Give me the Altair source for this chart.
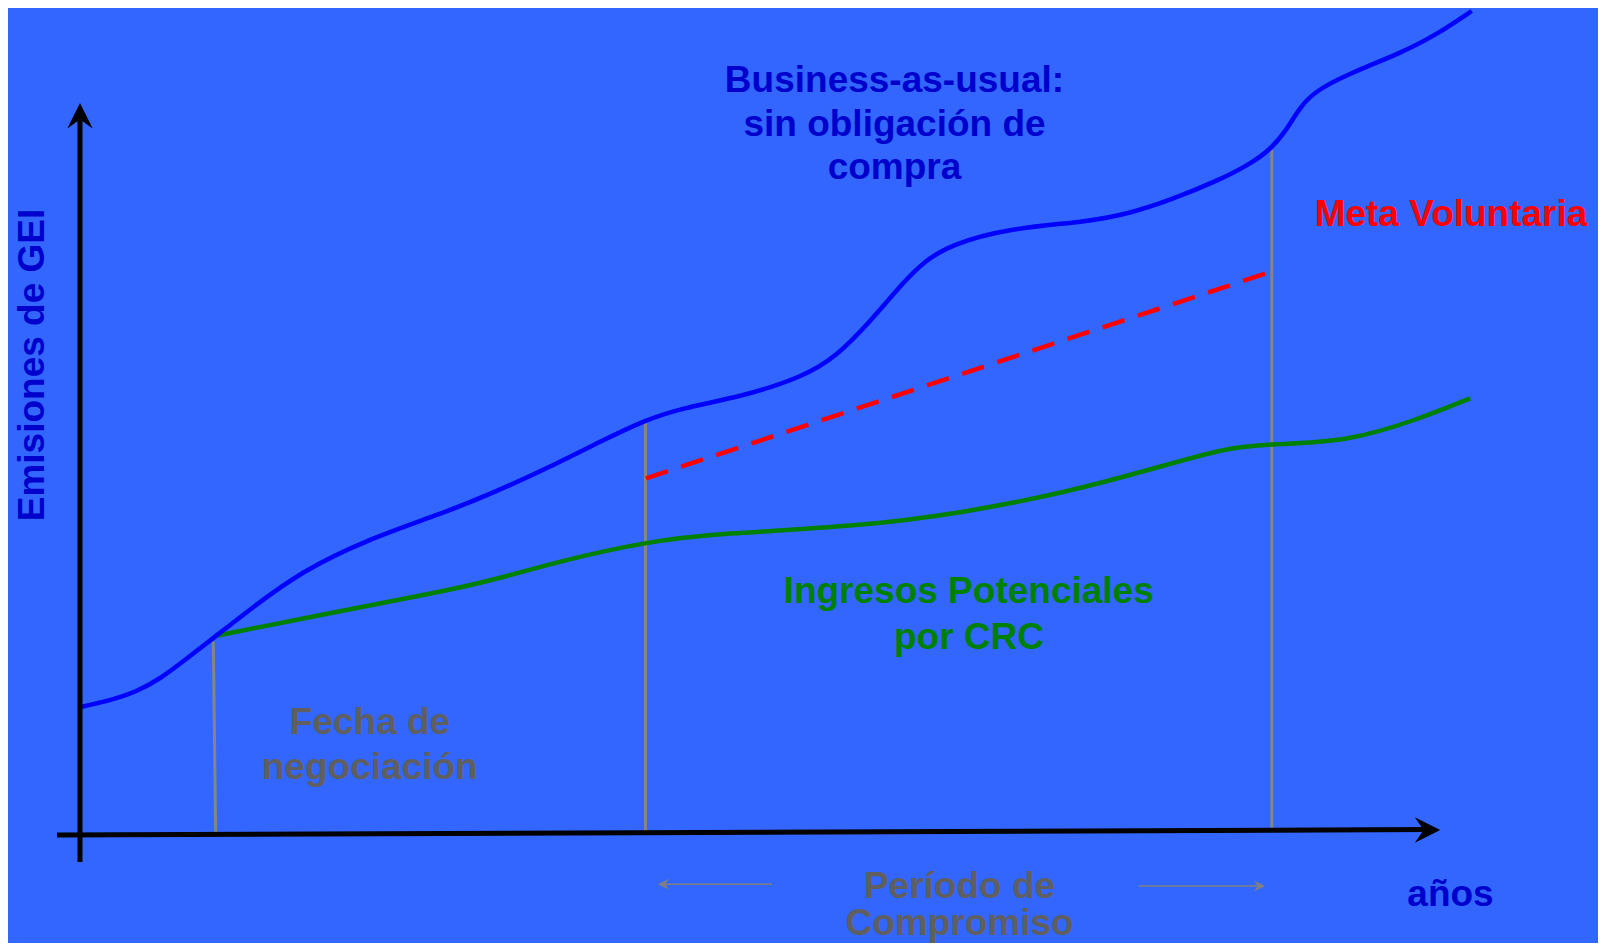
import altair as alt
import pandas as pd

# ---- data (schematic units: x = time position, y = emission level) ----
bau_x = [82, 110, 136, 160, 185, 215, 251.4, 301, 366, 442.7, 492.5, 557.5, 603.4, 645.5,
         680.8, 742, 803.3, 836, 868.6, 905.3, 925, 950.2, 1007.3, 1089, 1129.8, 1170.6, 1219.6,
         1250, 1270, 1286.7, 1300, 1316.7, 1350, 1400, 1433.3, 1471.7]
bau_y = [244.3, 250.5, 259, 272, 291, 314.3, 342.7, 379.3, 411, 437.7, 457.7, 487.7, 511, 531,
         542.7, 554.3, 574.3, 594.3, 627.7, 671, 690, 706, 722.7, 729.3, 737.7, 751, 771,
         787, 801, 821, 844.3, 861, 877.7, 897.7, 914.3, 940]

crc_x = [215, 328, 442.7, 500, 557.5, 645.5, 720.3, 854.3, 961.4, 1068.5, 1148.8, 1229.2,
         1272, 1347, 1416.7, 1470.2]
crc_y = [315, 337.7, 359.3, 372.7, 389.3, 409.3, 417.7, 424.3, 437.7, 459.3, 481, 504.3,
         506.7, 509.3, 531, 552.7]

meta_x = [646, 1271]
meta_y = [472.7, 679.3]

# vertical guide lines (x, y, x2, y2)
guide_x = [213.3, 645.5, 1271.8]
guide_y = [309.3, 528.3, 801]
guide_x2 = [215.7, 645.5, 1271.8]
guide_y2 = [116, 118.5, 121]

# axes lines
axis_x = [80, 57]
axis_y = [831, 116]
axis_x2 = [80, 1428]
axis_y2 = [89, 121.5]

# arrow heads
head_x = [80, 1427.5, 663.5, 1259.5]
head_y = [835.3, 121, 66.7, 65]
head_angle = [0, 90, 270, 90]
head_size = [645, 645, 121, 121]
head_color = ["#000000", "#000000", "#808080", "#808080"]

# period arrows lines
per_x = [663, 1139]
per_y = [66.7, 65]
per_x2 = [772, 1260]
per_y2 = [66.7, 65]

# labels
lab_text = ["Business-as-usual:", "sin obligación de", "compra", "Meta Voluntaria",
            "Ingresos Potenciales", "por CRC", "Fecha de", "negociación",
            "Período de", "Compromiso", "años"]
lab_x = [894.5, 894.5, 894.5, 1451, 968.7, 969, 370, 369.7, 959.5, 959.5, 1450.5]
lab_y = [859.3, 815, 771.7, 725, 347.7, 301.7, 216.7, 171.7, 53, 16, 45.3]
lab_color = ["#0000CC", "#0000CC", "#0000CC", "#FF0000", "#008000", "#008000",
             "#5F5F5F", "#5F5F5F", "#5F5F5F", "#5F5F5F", "#0000CC"]

ylab_text = ["Emisiones de GEI"]
ylab_x = [43.5]
ylab_y = [586]

# ---- build ----
W, H = 1590, 935
xs = alt.Scale(domain=[8, 1598], nice=False, zero=False)
ys = alt.Scale(domain=[8, 943], nice=False, zero=False)

def X(f):
    return alt.X(f, type="quantitative", scale=xs, axis=None)

def Y(f):
    return alt.Y(f, type="quantitative", scale=ys, axis=None)

bau = pd.DataFrame({"x": bau_x, "y": bau_y})
crc = pd.DataFrame({"x": crc_x, "y": crc_y})
meta = pd.DataFrame({"x": meta_x, "y": meta_y})
guides = pd.DataFrame({"x": guide_x, "y": guide_y, "x2": guide_x2, "y2": guide_y2})
axes = pd.DataFrame({"x": axis_x, "y": axis_y, "x2": axis_x2, "y2": axis_y2})
heads = pd.DataFrame({"x": head_x, "y": head_y, "a": head_angle, "s": head_size, "c": head_color})
per = pd.DataFrame({"x": per_x, "y": per_y, "x2": per_x2, "y2": per_y2})
labs = pd.DataFrame({"t": lab_text, "x": lab_x, "y": lab_y, "c": lab_color})
ylabs = pd.DataFrame({"t": ylab_text, "x": ylab_x, "y": ylab_y})

guide_layer = alt.Chart(guides).mark_rule(color="#858585", strokeWidth=3).encode(
    x=X("x"), y=Y("y"), x2="x2", y2="y2")

bau_layer = alt.Chart(bau).mark_line(color="#0000FF", strokeWidth=4.5, interpolate="basis").encode(
    x=X("x"), y=Y("y"), order="x:Q")
crc_layer = alt.Chart(crc).mark_line(color="#008000", strokeWidth=4.5, interpolate="basis").encode(
    x=X("x"), y=Y("y"), order="x:Q")
meta_layer = alt.Chart(meta).mark_line(color="#FF0000", strokeWidth=4.5, strokeDash=[23, 14]).encode(
    x=X("x"), y=Y("y"))

axes_layer = alt.Chart(axes).mark_rule(color="#000000", strokeWidth=5).encode(
    x=X("x"), y=Y("y"), x2="x2", y2="y2")
per_layer = alt.Chart(per).mark_rule(color="#808080", strokeWidth=1.5).encode(
    x=X("x"), y=Y("y"), x2="x2", y2="y2")

head_layer = alt.Chart(heads).mark_point(
    shape="M0,-1L1,1L0,0.3L-1,1Z", filled=True, opacity=1, strokeWidth=0).encode(
    x=X("x"), y=Y("y"),
    angle=alt.Angle("a:Q", scale=None),
    size=alt.Size("s:Q", scale=None),
    color=alt.Color("c:N", scale=None))

lab_layer = alt.Chart(labs).mark_text(
    font="Liberation Sans", fontWeight="bold", fontSize=37, align="center", baseline="alphabetic").encode(
    x=X("x"), y=Y("y"), text="t:N", color=alt.Color("c:N", scale=None))

ylab_layer = alt.Chart(ylabs).mark_text(
    font="Liberation Sans", fontWeight="bold", fontSize=37, align="center", baseline="alphabetic",
    angle=270, color="#0000CC").encode(x=X("x"), y=Y("y"), text="t:N")

chart = alt.layer(
    guide_layer, per_layer, crc_layer, meta_layer, bau_layer, axes_layer, head_layer,
    lab_layer, ylab_layer
).properties(
    width=W, height=H, padding=0, background="#3366FF",
    autosize=alt.AutoSizeParams(type="none")
).configure_view(stroke=None)

chart.save("out.html", embed_options={"renderer": "svg", "actions": False})
